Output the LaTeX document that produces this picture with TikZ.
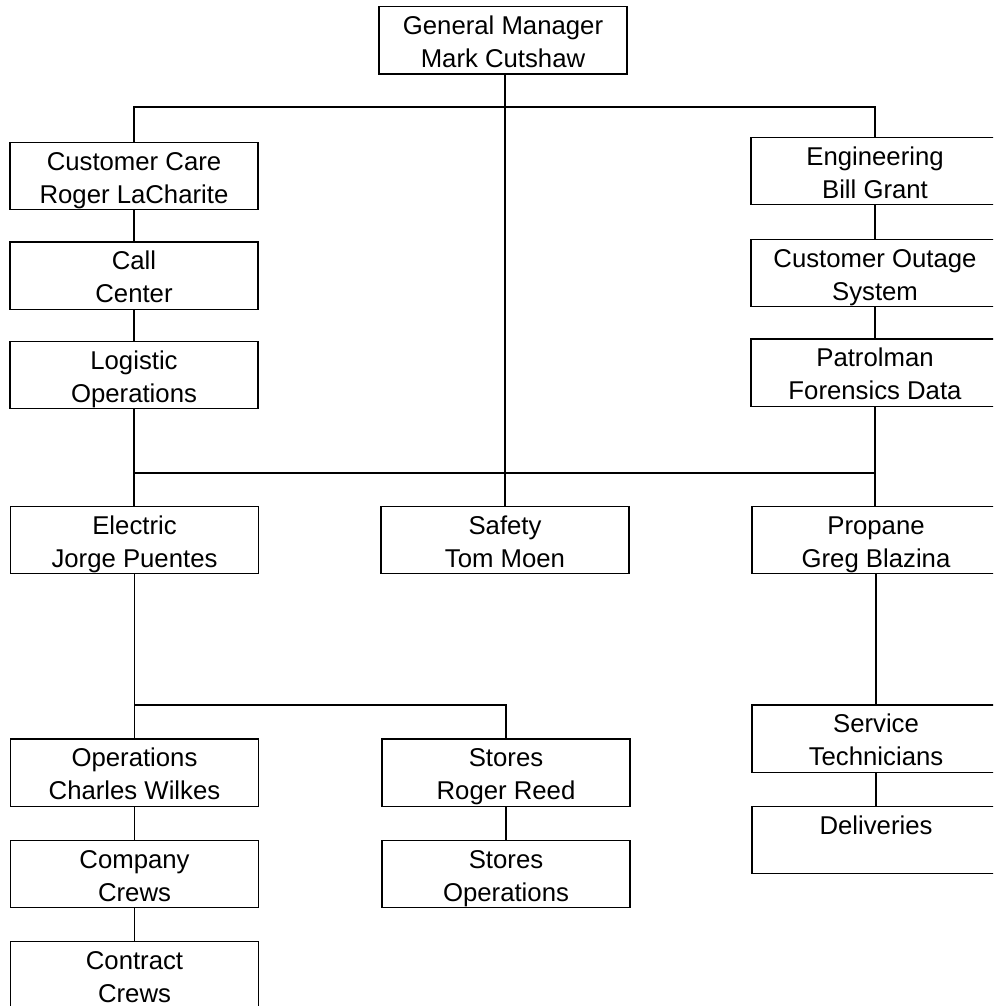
\documentclass[tikz,border=0pt]{standalone}
\usepackage{fontspec}
\setmainfont{Liberation Sans}
\newcommand\mystrut{\rule[-4.4pt]{0pt}{24.7pt}}
\newcommand\twoline[2]{\mystrut #1\\\mystrut #2}
\begin{document}
\begin{tikzpicture}[x=0.75pt,y=-0.75pt,
  orgbox/.style={draw, line width=1pt, minimum width=186pt, minimum height=50.5pt,
     inner sep=0pt, align=center, font=\fontsize{19.3}{24.75}\selectfont},
  conn/.style={line width=1pt}]
\useasboundingbox (0,0) rectangle (993,1006);
\clip (0,0) rectangle (993,1006);
\fill[white] (0,0) rectangle (993,1006);
% nodes
\node[orgbox] (gm)   at (503,40.5) {\twoline{General Manager}{Mark Cutshaw}};
\node[orgbox] (cc)   at (134,176) {\twoline{Customer Care}{Roger LaCharite}};
\node[orgbox] (eng)  at (875,171) {\twoline{Engineering}{Bill Grant}};
\node[orgbox] (call) at (134,275.5) {\twoline{Call}{Center}};
\node[orgbox] (cos)  at (875,273) {\twoline{Customer Outage}{System}};
\node[orgbox] (log)  at (134,375) {\twoline{Logistic}{Operations}};
\node[orgbox] (pat)  at (875,372.5) {\twoline{Patrolman}{Forensics Data}};
\node[orgbox] (ele)  at (134.5,540) {\twoline{Electric}{Jorge Puentes}};
\node[orgbox] (saf)  at (505,540) {\twoline{Safety}{Tom Moen}};
\node[orgbox] (pro)  at (876,540) {\twoline{Propane}{Greg Blazina}};
\node[orgbox] (ops)  at (134.5,772.5) {\twoline{Operations}{Charles Wilkes}};
\node[orgbox] (str)  at (506,772.5) {\twoline{Stores}{Roger Reed}};
\node[orgbox] (ser)  at (876,738.5) {\twoline{Service}{Technicians}};
\node[orgbox] (com)  at (134.5,874) {\twoline{Company}{Crews}};
\node[orgbox] (sto)  at (506,874) {\twoline{Stores}{Operations}};
\node[orgbox] (del)  at (876,840) {\twoline{Deliveries}{}};
\node[orgbox] (con)  at (134.5,975) {\twoline{Contract}{Crews}};
% bus coordinates
\coordinate (b1) at (504,107);
\coordinate (b2) at (505,473);
\coordinate (b3) at (300,705);
% connectors
\draw[conn] (gm.south -| saf.north) -- (saf.north);
\draw[conn] (cc.north) |- (b1) -| (eng.north);
\draw[conn] (cc.south) -- (call.north);
\draw[conn] (call.south) -- (log.north);
\draw[conn] (eng.south) -- (cos.north);
\draw[conn] (cos.south) -- (pat.north);
\draw[conn] (log.south) -- (ele.north -| log.south);
\draw[conn] (pat.south) -- (pro.north -| pat.south);
\draw[conn] (log.south) |- (b2) -| (pat.south);
\draw[conn] (ele.south) -- (ops.north);
\draw[conn] (ele.south) |- (b3) -| (str.north);
\draw[conn] (ops.south) -- (com.north);
\draw[conn] (com.south) -- (con.north);
\draw[conn] (str.south) -- (sto.north);
\draw[conn] (pro.south) -- (ser.north);
\draw[conn] (ser.south) -- (del.north);
\end{tikzpicture}
\end{document}
